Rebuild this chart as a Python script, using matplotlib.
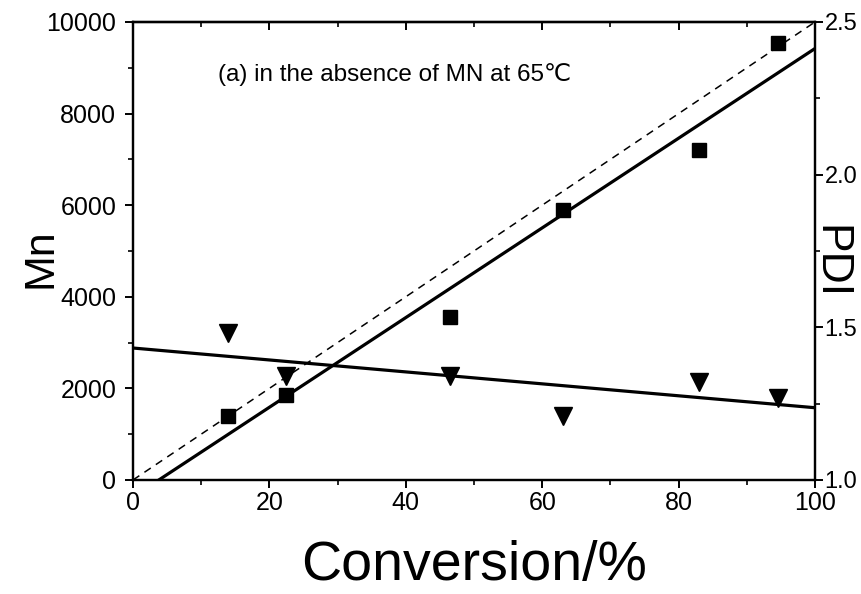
import numpy as np
import matplotlib
matplotlib.use("Agg")
import matplotlib.pyplot as plt
from matplotlib.ticker import MultipleLocator

plt.rcParams['font.family'] = ['Liberation Sans', 'DejaVu Sans']

conversion = [14, 22.5, 46.5, 63, 83, 94.5]
mn_values = [1400, 1850, 3550, 5900, 7200, 9550]
pdi_values = [1.48, 1.34, 1.34, 1.21, 1.32, 1.27]
theory_x = [0, 100]
theory_mn = [0, 10000]
x_ticks = [0, 20, 40, 60, 80, 100]
mn_ticks = [0, 2000, 4000, 6000, 8000, 10000]
pdi_ticks = [1.0, 1.5, 2.0, 2.5]
annotation = "(a) in the absence of MN at 65\u2103"

fig = plt.figure(figsize=(8.62, 5.94), dpi=100)
ax = fig.add_axes([0.1543, 0.192, 0.7912, 0.771])
ax2 = ax.twinx()

xs = np.array(conversion)
# linear fits
p_mn = np.polyfit(xs, mn_values, 1)
p_pdi = np.polyfit(xs, pdi_values, 1)
xfit = np.linspace(0, 100, 200)

ax.plot(theory_x, theory_mn, color='black', lw=1.1, ls=(0, (5, 4)))
ax.plot(xfit, np.polyval(p_mn, xfit), color='black', lw=2.3)
ax.plot(xs, mn_values, ls='none', marker='s', ms=10, color='black')

ax2.plot(xfit, np.polyval(p_pdi, xfit), color='black', lw=2.3)
ax2.plot(xs, pdi_values, ls='none', marker='v', ms=12.5, color='black')

ax.set_xlim(0, 100)
ax.set_ylim(0, 10000)
ax2.set_ylim(1.0, 2.5)

ax.set_xticks(x_ticks)
ax.set_yticks(mn_ticks)
ax2.set_yticks(pdi_ticks)
ax.set_yticklabels([str(v) for v in mn_ticks])
ax2.set_yticklabels([f"{v:.1f}" for v in pdi_ticks])
ax.xaxis.set_minor_locator(MultipleLocator(10))
ax.yaxis.set_minor_locator(MultipleLocator(1000))
ax2.yaxis.set_minor_locator(MultipleLocator(0.25))

for a in (ax, ax2):
    for s in a.spines.values():
        s.set_linewidth(1.6)
ax.tick_params(axis='both', which='major', direction='out', length=6, width=1.4,
               labelsize=18, pad=2)
ax.tick_params(axis='y', which='major', pad=6)
ax.tick_params(axis='both', which='minor', direction='out', length=3.5, width=1.2)
ax2.tick_params(axis='y', which='major', direction='out', length=6, width=1.4,
                labelsize=17, pad=1)
ax2.tick_params(axis='y', which='minor', direction='out', length=3.5, width=1.2)

# top ticks inward
secx = ax.secondary_xaxis('top')
secx.set_xticks(x_ticks)
secx.xaxis.set_minor_locator(MultipleLocator(10))
secx.tick_params(which='major', direction='in', length=6, width=1.4, labeltop=False)
secx.tick_params(which='minor', direction='in', length=3.5, width=1.2)
secx.spines['top'].set_linewidth(1.6)

ax.set_xlabel('Conversion/%', fontsize=40, labelpad=18)
ax.set_ylabel('Mn', fontsize=31, va='center')
ax.yaxis.set_label_coords(-0.136, 0.485)
ax2.set_ylabel('PDI', fontsize=32, rotation=270, va='center')
ax2.yaxis.set_label_coords(1.022, 0.475)

ax.text(12.5, 8850, annotation, fontsize=17.5, ha='left', va='center')

fig.savefig('out.png', dpi=100)
